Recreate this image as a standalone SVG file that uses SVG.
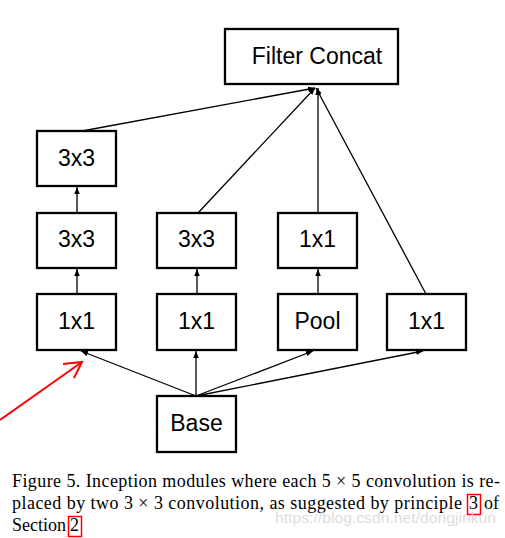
<svg xmlns="http://www.w3.org/2000/svg" width="505" height="538" viewBox="0 0 505 538">
<defs>
<marker id="ah" markerUnits="userSpaceOnUse" markerWidth="8" markerHeight="6" refX="7" refY="2.75" orient="auto">
<path d="M0,0 L7,2.75 L0,5.5 z" fill="#000"/>
</marker>
<style>
.box{fill:#fff;stroke:#000;stroke-width:2.3}
.lbl{font-family:"Liberation Sans",Arial,sans-serif;font-size:23px;fill:#000;text-anchor:middle}
.edge{stroke:#000;stroke-width:1.3;fill:none;marker-end:url(#ah)}
.cap{font-family:"Liberation Serif","Times New Roman",serif;font-size:18px;fill:#000}
.ref{fill:none;stroke:#f00;stroke-width:1.5}
</style>
</defs>
<rect width="505" height="538" fill="#fff"/>
<g id="connectors">
<line class="edge" x1="82" y1="131" x2="315" y2="88"/>
<line class="edge" x1="198" y1="213" x2="315" y2="88"/>
<line class="edge" x1="318" y1="213" x2="318" y2="88"/>
<line class="edge" x1="426" y1="294" x2="316" y2="88"/>
<line class="edge" x1="77" y1="213" x2="77" y2="187"/>
<line class="edge" x1="77" y1="294" x2="77" y2="269"/>
<line class="edge" x1="197" y1="294" x2="197" y2="269"/>
<line class="edge" x1="318" y1="294" x2="318" y2="269"/>
<line class="edge" x1="196" y1="396" x2="81" y2="351"/>
<line class="edge" x1="196" y1="396" x2="196" y2="351"/>
<line class="edge" x1="196" y1="396" x2="313" y2="351"/>
<line class="edge" x1="196" y1="396" x2="423" y2="351"/>
</g>
<g id="concat"><rect class="box" x="225" y="29" width="173" height="55"/><text class="lbl" x="317" y="64">Filter Concat</text></g>
<g id="c1_3x3_top"><rect class="box" x="37" y="131" width="79" height="55"/><text class="lbl" x="76.5" y="165.5">3x3</text></g>
<g id="c1_3x3_mid"><rect class="box" x="37" y="213" width="79" height="55"/><text class="lbl" x="76.5" y="247">3x3</text></g>
<g id="c1_1x1"><rect class="box" x="37" y="294" width="79" height="56"/><text class="lbl" x="76.5" y="328.5">1x1</text></g>
<g id="c2_3x3"><rect class="box" x="157" y="213" width="79" height="55"/><text class="lbl" x="196.5" y="247">3x3</text></g>
<g id="c2_1x1"><rect class="box" x="157" y="294" width="79" height="56"/><text class="lbl" x="196.5" y="328.5">1x1</text></g>
<g id="c3_1x1"><rect class="box" x="278" y="213" width="79" height="55"/><text class="lbl" x="317.5" y="247">1x1</text></g>
<g id="c3_pool"><rect class="box" x="278" y="294" width="79" height="56"/><text class="lbl" x="317.5" y="328.5">Pool</text></g>
<g id="c4_1x1"><rect class="box" x="387" y="294" width="79" height="56"/><text class="lbl" x="426.5" y="328.5">1x1</text></g>
<g id="base"><rect class="box" x="157" y="396" width="79" height="56"/><text class="lbl" x="196.5" y="430.5">Base</text></g>
<g id="red_arrow" fill="none" stroke="#f00" stroke-width="2">
<line x1="0" y1="420" x2="82" y2="362"/>
<polyline points="63,364 82,362 74,378"/>
</g>
<g id="caption">
<text class="cap" x="12" y="487" textLength="488" lengthAdjust="spacing">Figure 5. Inception modules where each 5 × 5 convolution is re-</text>
<text class="cap" x="12" y="509" textLength="450" lengthAdjust="spacing">placed by two 3 × 3 convolution, as suggested by principle</text>
<text class="cap" x="469" y="509">3</text>
<text class="cap" x="484" y="509">of</text>
<rect class="ref" x="467.5" y="494.5" width="13" height="20"/>
<text class="cap" x="12" y="531">Section</text>
<text class="cap" x="70" y="531">2</text>
<rect class="ref" x="68.5" y="516.5" width="13" height="20"/>
<text x="275" y="523" font-family="'Liberation Sans',Arial,sans-serif" font-size="15" fill="#d9d9d9" fill-opacity="0.9" textLength="221" lengthAdjust="spacingAndGlyphs">https://blog.csdn.net/dongjinkun</text>
</g>
</svg>
